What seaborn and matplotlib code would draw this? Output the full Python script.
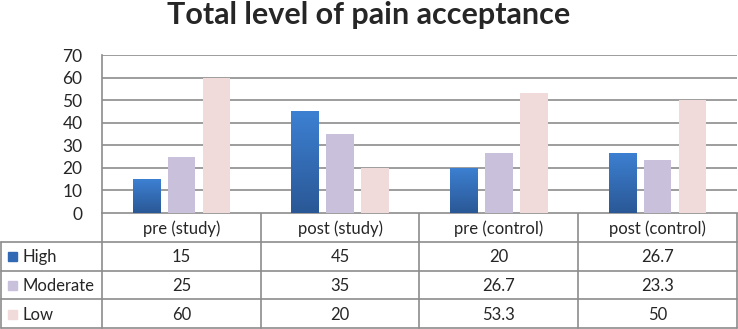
import numpy as np
import pandas as pd
import matplotlib
matplotlib.use("Agg")
import matplotlib.pyplot as plt
import seaborn as sns
from matplotlib.colors import LinearSegmentedColormap

# datos del grafico
categorias = ["pre (study)", "post (study)", "pre (control)", "post (control)"]
niveles = ["High", "Moderate", "Low"]
high = [15, 45, 20, 26.7]
moderate = [25, 35, 26.7, 23.3]
low = [60, 20, 53.3, 50]
etiquetas_tabla = {"High": ["15", "45", "20", "26.7"],
                   "Moderate": ["25", "35", "26.7", "23.3"],
                   "Low": ["60", "20", "53.3", "50"]}
yticks = [0, 10, 20, 30, 40, 50, 60, 70]
colores = {"High": "#3169B4", "Moderate": "#C9C0DC", "Low": "#F1DADA"}

df = pd.DataFrame({
    "categoria": categorias * 3,
    "nivel": ["High"] * 4 + ["Moderate"] * 4 + ["Low"] * 4,
    "valor": high + moderate + low,
})

sns.set_style("white")
plt.rcParams["font.family"] = ["Lato", "DejaVu Sans"]

W, H = 738, 329
fig = plt.figure(figsize=(W / 100, H / 100), dpi=100)

# zona de barras en pixeles
x0, x1, ytop, ybot = 102, 737, 55, 213
ax = fig.add_axes([x0 / W, 1 - ybot / H, (x1 - x0) / W, (ybot - ytop) / H])
sns.barplot(data=df, x="categoria", y="valor", hue="nivel", hue_order=niveles,
            order=categorias, palette=colores, width=0.66, gap=0.21,
            saturation=1, ax=ax, legend=False, zorder=3, linewidth=0)

# degradado en las barras azules
cmap = LinearSegmentedColormap.from_list("azul", ["#2A5896", "#3D80D2"])
grad = np.linspace(0, 1, 100).reshape(-1, 1)
for p in ax.containers[0]:
    bx, by = p.get_x(), p.get_y()
    bw, bh = p.get_width(), p.get_height()
    im = ax.imshow(grad, extent=[bx, bx + bw, by, by + bh], origin="lower",
                   cmap=cmap, aspect="auto", zorder=4)
    im.set_clip_path(p)

ax.set_xlim(-0.5, 3.5)
ax.set_ylim(0, 70)
ax.set_yticks(yticks)
ax.set_yticklabels([str(v) for v in yticks], fontsize=12.5)
ax.set_xticks([])
ax.set_xlabel("")
ax.set_ylabel("")
ax.grid(axis="y", color="#8C8C8C", linewidth=1.2, zorder=0)
ax.tick_params(axis="y", length=0, pad=14)
for s in ["top", "right", "bottom"]:
    ax.spines[s].set_visible(False)
ax.spines["left"].set_color("#8C8C8C")
ax.spines["left"].set_linewidth(1.2)

# tabla de datos debajo
tab = fig.add_axes([0, 0, 1, 1], zorder=-1)
tab.set_xlim(0, W)
tab.set_ylim(H, 0)
tab.axis("off")
cols = [102, 260.7, 419.3, 578, 737]
filas = [213, 242, 270.5, 299, 328]
lc = "#8C8C8C"
tab.plot([x0, x1], [filas[0], filas[0]], color=lc, lw=1.2)
for y in filas[1:]:
    tab.plot([1, x1], [y, y], color=lc, lw=1.2)
for i, x in enumerate(cols):
    tab.plot([x, x], [filas[0], filas[-1]], color=lc, lw=1.2)
tab.plot([1, 1], [filas[1], filas[-1]], color=lc, lw=1.2)

fs = 12
for i, c in enumerate(categorias):
    tab.text((cols[i] + cols[i + 1]) / 2, (filas[0] + filas[1]) / 2 + 1, c,
             ha="center", va="center", fontsize=fs)
for r, n in enumerate(niveles):
    yc = (filas[r + 1] + filas[r + 2]) / 2 + 1
    tab.add_patch(plt.Rectangle((8, yc - 5), 9, 9, color=colores[n]))
    tab.text(22, yc, n, ha="left", va="center", fontsize=fs)
    for i in range(4):
        tab.text((cols[i] + cols[i + 1]) / 2, yc, etiquetas_tabla[n][i],
                 ha="center", va="center", fontsize=fs)

fig.text(0.5, 1 - 24 / H, "Total level of pain acceptance", ha="center",
         va="baseline", fontsize=22, fontweight="bold")

fig.savefig("out.png", dpi=100)
